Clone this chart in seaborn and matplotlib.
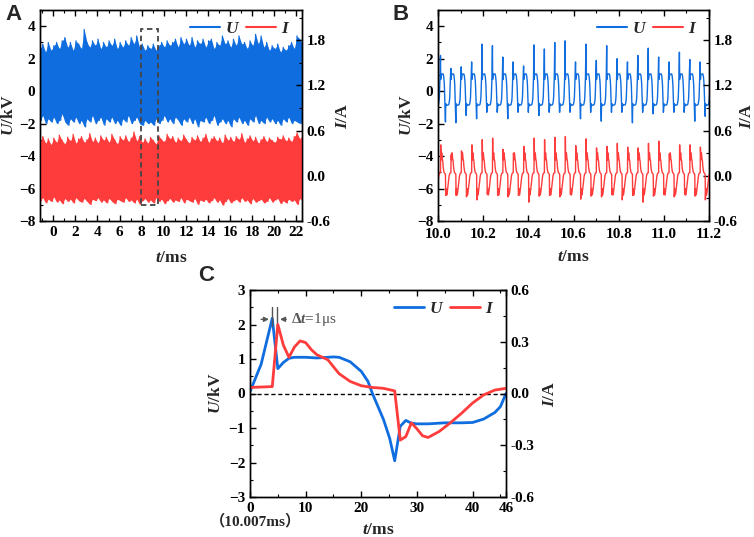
import numpy as np
import pandas as pd
import seaborn as sns
import matplotlib.pyplot as plt
from matplotlib.lines import Line2D
from matplotlib.patches import Rectangle
from matplotlib.ticker import MultipleLocator, FormatStrFormatter

# ---------------- data ----------------
# Panel C: one cycle (time in microseconds after 10.007 ms)
C_t_U = [0, 2, 4, 5, 6, 7, 8, 10, 12, 15, 16, 18, 20, 21.2, 22, 23, 24, 25.1, 26,
         27, 28, 29, 30, 32, 35, 38, 40, 42, 44, 45, 46]
C_U = [0.05, 0.85, 2.18, 0.72, 0.9, 1.02, 1.05, 1.05, 1.03, 1.06, 1.05, 0.92, 0.64, 0.35, 0.0,
       -0.38, -0.76, -1.3, -1.95, -0.95, -0.78, -0.86, -0.88, -0.88, -0.85, -0.85, -0.84,
       -0.74, -0.55, -0.38, 0.0]
C_t_I = [0, 4, 5, 6, 7, 8, 9, 10, 11, 12, 14, 16, 18, 20, 22, 24, 26, 27, 28, 29, 30, 31,
         32, 34, 36, 38, 40, 42, 44, 46]
C_I = [0.035, 0.04, 0.40, 0.28, 0.21, 0.27, 0.305, 0.295, 0.255, 0.225, 0.195, 0.115,
       0.07, 0.045, 0.035, 0.03, 0.015, -0.27, -0.25, -0.17, -0.205, -0.245, -0.255,
       -0.22, -0.17, -0.115, -0.055, -0.008, 0.02, 0.03]
C_start_ms = 10.007
C_period_ms = 0.046

# Panel B: per-cycle spike values (26 cycles)
B_U_peak = [2.2, 1.4, 1.5, 1.8, 2.9, 2.8, 2.1, 1.8, 1.55, 2.85, 2.6, 3.0, 3.1, 1.8, 2.9,
            1.9, 2.8, 2.0, 1.8, 2.2, 2.65, 2.1, 1.8, 2.4, 1.95, 1.8]
B_U_trough = [-1.9, -1.95, -1.5, -1.7, -1.0, -1.2, -1.7, -1.3, -1.0, -1.5, -1.2, -1.3, -1.2,
              -1.7, -0.95, -1.85, -1.05, -1.2, -1.95, -1.1, -1.4, -1.1, -1.3, -1.1, -1.85, -1.55]
B_I_peak = [0.41, 0.28, 0.33, 0.41, 0.48, 0.50, 0.35, 0.30, 0.39, 0.50, 0.48, 0.51, 0.52,
            0.40, 0.49, 0.37, 0.39, 0.43, 0.38, 0.37, 0.43, 0.46, 0.29, 0.41, 0.41, 0.38]
B_I_trough = [-0.26, -0.26, -0.28, -0.32, -0.23, -0.26, -0.28, -0.26, -0.35, -0.27, -0.26,
              -0.28, -0.24, -0.31, -0.27, -0.28, -0.25, -0.32, -0.26, -0.35, -0.27, -0.24,
              -0.28, -0.23, -0.27, -0.32]

# Panel A: envelope (spike tops / bottoms) sampled every 0.25 ms from -1.2 ms
A_t0, A_dt = -1.2, 0.25
A_U_hi = [2.6, 2.9, 2.4, 3.0, 2.5, 2.8, 3.0, 2.6, 3.1, 3.3, 2.7, 3.0, 2.5, 3.1, 2.9,
          2.6, 3.8, 3.0, 2.7, 3.1, 2.8, 3.2, 2.6, 3.0, 2.7, 3.1, 2.8, 3.2, 2.6, 3.0,
          2.7, 3.1, 2.8, 3.3, 2.9, 3.4, 2.7, 2.9, 2.5, 2.8, 2.6, 2.9, 2.5, 2.8, 3.0,
          2.7, 3.1, 2.8, 3.0, 3.2, 2.7, 3.3, 2.9, 3.2, 2.8, 3.3, 2.7, 3.1, 2.9, 3.2,
          2.7, 3.1, 3.2, 2.6, 3.0, 2.8, 3.4, 2.9, 3.1, 2.7, 3.2, 2.8, 3.4, 2.9, 3.0,
          2.6, 3.1, 2.8, 3.5, 2.9, 3.4, 2.7, 3.0, 2.5, 2.8, 2.6, 2.9, 2.4, 2.7, 2.5,
          2.8, 3.0, 2.6, 3.4, 3.2, 2.9]
A_U_lo = [-1.8, -1.5, -2.0, -1.7, -1.9, -1.6, -2.0, -1.8, -1.4, -1.9, -2.1, -1.7, -1.9, -1.6, -2.0,
          -1.8, -2.2, -1.7, -1.9, -1.5, -2.0, -1.8, -1.6, -2.1, -1.7, -1.9, -1.6, -2.0, -1.8, -2.1,
          -1.7, -1.9, -1.5, -2.0, -1.8, -1.6, -2.0, -2.1, -1.8, -2.0, -1.9, -2.1, -1.7, -2.0, -1.8,
          -1.5, -1.9, -1.7, -2.0, -1.6, -1.8, -2.1, -1.7, -1.9, -1.6, -2.0, -1.7, -2.2, -1.8, -1.9,
          -1.6, -2.0, -1.8, -1.5, -2.1, -1.9, -1.7, -2.0, -1.8, -2.2, -1.7, -1.9, -1.6, -2.0, -1.8,
          -2.1, -1.7, -1.9, -1.5, -2.0, -1.8, -2.0, -1.6, -1.9, -1.7, -2.0, -1.8, -2.1, -1.7, -1.9,
          -1.6, -2.0, -1.8, -1.9, -2.0, -1.7]
A_I_hi = [0.45, 0.52, 0.43, 0.49, 0.41, 0.50, 0.44, 0.54, 0.47, 0.42, 0.51, 0.46, 0.55, 0.43, 0.49,
          0.52, 0.44, 0.48, 0.56, 0.45, 0.50, 0.43, 0.53, 0.47, 0.51, 0.44, 0.55, 0.48, 0.42, 0.52,
          0.47, 0.53, 0.45, 0.50, 0.58, 0.46, 0.52, 0.44, 0.49, 0.43, 0.51, 0.47, 0.42, 0.53, 0.48,
          0.45, 0.55, 0.49, 0.52, 0.44, 0.50, 0.46, 0.54, 0.48, 0.43, 0.51, 0.47, 0.53, 0.45, 0.50,
          0.55, 0.44, 0.49, 0.52, 0.46, 0.50, 0.43, 0.54, 0.47, 0.51, 0.45, 0.52, 0.48, 0.56, 0.44,
          0.49, 0.53, 0.46, 0.51, 0.43, 0.48, 0.52, 0.45, 0.50, 0.47, 0.44, 0.51, 0.48, 0.53, 0.46,
          0.50, 0.45, 0.52, 0.57, 0.49, 0.54]
A_I_lo = [-0.33, -0.29, -0.36, -0.31, -0.34, -0.28, -0.35, -0.32, -0.37, -0.30, -0.34, -0.31, -0.36, -0.29, -0.33,
          -0.35, -0.30, -0.34, -0.38, -0.31, -0.33, -0.29, -0.35, -0.32, -0.36, -0.30, -0.34, -0.37, -0.31, -0.33,
          -0.35, -0.29, -0.34, -0.32, -0.36, -0.31, -0.38, -0.33, -0.30, -0.35, -0.32, -0.36, -0.29, -0.34, -0.31,
          -0.37, -0.33, -0.30, -0.35, -0.32, -0.34, -0.29, -0.36, -0.31, -0.33, -0.35, -0.30, -0.38, -0.32, -0.34,
          -0.31, -0.36, -0.33, -0.29, -0.35, -0.32, -0.39, -0.34, -0.30, -0.36, -0.33, -0.31, -0.35, -0.29, -0.34,
          -0.32, -0.37, -0.30, -0.35, -0.33, -0.31, -0.36, -0.34, -0.29, -0.35, -0.32, -0.30, -0.37, -0.33, -0.36,
          -0.31, -0.34, -0.32, -0.38, -0.30, -0.33]

A_xticks = list(range(0, 23, 2))
B_xticks = [10.0, 10.2, 10.4, 10.6, 10.8, 11.0, 11.2]
C_xticks = [0, 10, 20, 30, 40, 46]

BLUE = '#0f6ddf'
RED = '#ff3c3c'

# ---------------- style ----------------
sns.set_theme(style='ticks')
plt.rcParams['font.family'] = ['Liberation Serif', 'Noto Sans CJK SC']
plt.rcParams['font.weight'] = 'bold'
plt.rcParams['mathtext.fontset'] = 'custom'
plt.rcParams['mathtext.it'] = 'Liberation Serif:italic:bold'
plt.rcParams['mathtext.rm'] = 'Liberation Serif:bold'
plt.rcParams['axes.linewidth'] = 1.0

FS = 11
LFS = 12.5

fig = plt.figure(figsize=(7.54, 5.37), dpi=100)
axA = fig.add_axes([40/754, 1-221/537, 262/754, 211/537])
axB = fig.add_axes([438/754, 1-221/537, 271/754, 211/537])
axC = fig.add_axes([250/754, 1-497/537, 256/754, 207/537])


def style(ax, ax2, xmaj, xmin, ymaj, ymin, y2maj, y2min, y2fmt):
    for a in (ax, ax2):
        for s in a.spines.values():
            s.set_color('black')
            s.set_linewidth(1.0)
    ax.xaxis.set_major_locator(xmaj)
    ax.xaxis.set_minor_locator(xmin)
    ax.yaxis.set_major_locator(ymaj)
    ax.yaxis.set_minor_locator(ymin)
    ax2.yaxis.set_major_locator(y2maj)
    ax2.yaxis.set_minor_locator(y2min)
    ax2.yaxis.set_major_formatter(FormatStrFormatter(y2fmt))
    ax.tick_params(which='both', direction='in', top=True, right=False, labelsize=FS,
                   colors='black')
    ax.tick_params(which='major', length=4, width=1)
    ax.tick_params(which='minor', length=2, width=0.8)
    ax2.tick_params(which='both', direction='in', right=True, labelsize=FS, colors='black')
    ax2.tick_params(which='major', length=4, width=1)
    ax2.tick_params(which='minor', length=2, width=0.8)
    for lab in ax.get_xticklabels() + ax.get_yticklabels() + ax2.get_yticklabels():
        lab.set_fontweight('bold')


def legend(ax2, lw=1.5):
    h = [Line2D([], [], color=BLUE, lw=lw), Line2D([], [], color=RED, lw=lw)]
    ax2.legend(h, ['$U$', '$I$'], loc='upper right', ncol=2, frameon=False,
               fontsize=LFS, handlelength=1.75, handletextpad=0.3,
               columnspacing=0.3, borderaxespad=0.25)


# ---------------- panel A ----------------
n = len(A_U_hi)
tA = A_t0 + A_dt * np.arange(n)
tA_lo = tA + A_dt / 2
zz_t = np.ravel(np.column_stack([tA, tA_lo]))
zz_U = np.ravel(np.column_stack([A_U_hi, A_U_lo]))
zz_I = np.ravel(np.column_stack([A_I_hi, A_I_lo]))
axA2 = axA.twinx()
axA.fill_between(tA, A_U_lo, A_U_hi, color=BLUE, lw=0)
axA2.fill_between(tA, A_I_lo, A_I_hi, color=RED, lw=0)
sns.lineplot(x=zz_t, y=zz_U, ax=axA, color=BLUE, lw=0.9, sort=False, estimator=None)
sns.lineplot(x=zz_t, y=zz_I, ax=axA2, color=RED, lw=0.9, sort=False, estimator=None)
axA2.add_patch(Rectangle((7.95, -7.0), 1.55, 10.85, fill=False, ls=(0, (3, 2)),
                         lw=1.3, ec='#444444', zorder=5, transform=axA.transData))
axA.set_xlim(-1.2, 22.5)
axA.set_ylim(-8, 5)
axA2.set_ylim(-0.6, 2.2)
style(axA, axA2, MultipleLocator(2), MultipleLocator(1), MultipleLocator(2),
      MultipleLocator(1), MultipleLocator(0.6), MultipleLocator(0.3), '%.1f')
axA.set_xticks(A_xticks)
axA.set_xlabel('$t$/ms', fontsize=LFS, fontweight='bold', labelpad=8)
axA.set_ylabel('$U$/kV', fontsize=LFS, fontweight='bold', labelpad=1)
axA2.set_ylabel('$I$/A', fontsize=LFS, fontweight='bold', labelpad=3)
legend(axA2)

# ---------------- panel B ----------------
tmpl_tU = np.array(C_t_U) / 1000.0
tmpl_tI = np.array(C_t_I) / 1000.0
iUp, iUt = C_t_U.index(4), C_t_U.index(26)
iIp, iIt = C_t_I.index(5), C_t_I.index(27)
bt_U, bv_U, bt_I, bv_I = [], [], [], []
for k in range(len(B_U_peak)):
    st = C_start_ms + C_period_ms * k
    u = list(C_U)
    u[iUp], u[iUt] = B_U_peak[k], B_U_trough[k]
    i_ = list(C_I)
    i_[iIp], i_[iIt] = B_I_peak[k], B_I_trough[k]
    sl = slice(None) if k == len(B_U_peak) - 1 else slice(0, -1)
    bt_U += list((st + tmpl_tU)[sl]); bv_U += u[sl]
    bt_I += list((st + tmpl_tI)[sl]); bv_I += i_[sl]
# lead-in from the previous cycle's tail
lead_tU = list(C_start_ms - C_period_ms + tmpl_tU[-6:-1])
lead_tI = list(C_start_ms - C_period_ms + tmpl_tI[-6:-1])
bt_U = lead_tU + bt_U; bv_U = list(C_U[-6:-1]) + bv_U
bt_I = lead_tI + bt_I; bv_I = list(C_I[-6:-1]) + bv_I

axB2 = axB.twinx()
sns.lineplot(x=bt_U, y=bv_U, ax=axB, color=BLUE, lw=1.0, sort=False, estimator=None)
sns.lineplot(x=bt_I, y=bv_I, ax=axB2, color=RED, lw=1.0, sort=False, estimator=None)
axB.set_xlim(10.0, 11.2)
axB.set_ylim(-8, 5)
axB2.set_ylim(-0.6, 2.2)
style(axB, axB2, MultipleLocator(0.2), MultipleLocator(0.1), MultipleLocator(2),
      MultipleLocator(1), MultipleLocator(0.6), MultipleLocator(0.3), '%.1f')
axB.set_xticks(B_xticks)
axB.xaxis.set_major_formatter(FormatStrFormatter('%.1f'))
axB.tick_params(axis='x', pad=5)
axB.set_xlabel('$t$/ms', fontsize=LFS, fontweight='bold', labelpad=6)
axB.set_ylabel('$U$/kV', fontsize=LFS, fontweight='bold', labelpad=1)
axB2.set_ylabel('$I$/A', fontsize=LFS, fontweight='bold', labelpad=1)
legend(axB2)

# ---------------- panel C ----------------
axC2 = axC.twinx()
axC.axhline(0, color='black', lw=1.0, ls=(0, (3, 2)), zorder=1)
sns.lineplot(x=C_t_U, y=C_U, ax=axC, color=BLUE, lw=2.0, sort=False, estimator=None)
sns.lineplot(x=C_t_I, y=C_I, ax=axC2, color=RED, lw=2.0, sort=False, estimator=None)
axC.set_xlim(0, 46)
axC.set_ylim(-3, 3)
axC2.set_ylim(-0.6, 0.6)
style(axC, axC2, MultipleLocator(10), MultipleLocator(5), MultipleLocator(1),
      MultipleLocator(0.5), MultipleLocator(0.3), MultipleLocator(0.15), '%.1f')
axC.set_xticks(C_xticks)
axC.set_xlabel('$t$/ms', fontsize=LFS, fontweight='bold', labelpad=5)
axC.set_ylabel('$U$/kV', fontsize=LFS, fontweight='bold', labelpad=3)
axC2.set_ylabel('$I$/A', fontsize=LFS, fontweight='bold', labelpad=5)
legend(axC2, lw=2.0)
# delta-t annotation
gray = '#555555'
for xv in (3.9, 4.9):
    axC.plot([xv, xv], [1.95, 2.5], color=gray, lw=1.0)
axC.annotate('', xy=(3.9, 2.15), xytext=(1.5, 2.15),
             arrowprops=dict(arrowstyle='-|>', color=gray, lw=1.0, mutation_scale=7))
axC.annotate('', xy=(4.9, 2.15), xytext=(7.0, 2.15),
             arrowprops=dict(arrowstyle='-|>', color=gray, lw=1.0, mutation_scale=7))
axC.text(7.3, 2.15, '$\\Delta$$t$=1μs', color=gray, fontsize=FS, va='center',
         ha='left', fontweight='normal')
axC.text(0.02, -0.118, '（10.007ms）', transform=axC.transAxes, ha='center', va='center',
         fontsize=FS, fontweight='bold', family=['Liberation Serif', 'Noto Sans CJK SC'])

# panel letters
for letter, x, y in (('A', 5, 4), ('B', 392, 4), ('C', 198, 265)):
    fig.text(x / 754, 1 - y / 537, letter, fontsize=16, fontweight='bold',
             family='Liberation Sans', ha='left', va='top')

fig.savefig('out.png', dpi=100)
